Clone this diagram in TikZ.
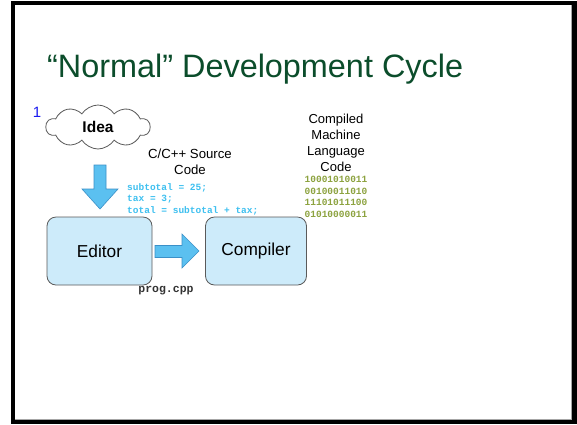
\documentclass[tikz,border=0pt]{standalone}
\usepackage{fontspec}
\setmainfont{Liberation Sans}
\newfontfamily\codefont{Liberation Mono}
\usetikzlibrary{shapes.symbols}
\definecolor{titlegreen}{HTML}{0B4D2B}
\definecolor{boxfill}{HTML}{CDEBFA}
\definecolor{boxline}{HTML}{5A5A5A}
\definecolor{arrowfill}{HTML}{5BC0F0}
\definecolor{arrowline}{HTML}{3A90C8}
\definecolor{codecyan}{HTML}{3EC0F0}
\definecolor{binolive}{HTML}{8CA23E}
\definecolor{numblue}{HTML}{1A1AF0}
\tikzset{
  stagebox/.style={draw=boxline, fill=boxfill, rounded corners=9pt, line width=0.8pt,
    minimum width=105pt, minimum height=68pt, font=\fontsize{17.3}{20}\selectfont},
  blockarrow/.style={draw=arrowline, fill=arrowfill, line width=0.6pt, line join=miter},
  labeltext/.style={align=center, font=\fontsize{13.2}{16}\selectfont, inner sep=0pt},
  codetext/.style={align=left, font=\codefont\bfseries\fontsize{9.5}{11.5}\selectfont, inner sep=0pt},
}
\begin{document}
\begin{tikzpicture}[x=1pt,y=-1pt]
\useasboundingbox (0,0) rectangle (577,424);
% slide frame
\fill[black] (11,1) rectangle (577,424);
\fill[white] (15,5) rectangle (572,420);
\draw[gray!70, line width=0.8pt] (571.5,5) -- (571.5,419.5) -- (15,419.5);
% title
\node[anchor=base west, inner sep=0pt, text=titlegreen, font=\fontsize{32.4}{38}\selectfont] (title) at (47,77) {“Normal” Development Cycle};
% number
\node[text=numblue, font=\fontsize{15}{17}\selectfont, inner sep=0pt] (num) at (37,112) {1};
% cloud
\node[cloud, cloud puffs=10, cloud puff arc=115, aspect=2.5, draw=boxline, fill=white, line width=0.8pt,
  minimum width=104pt, minimum height=44pt, inner sep=0pt, font=\bfseries\fontsize{15.5}{18}\selectfont] (idea) at (98,127) {Idea};
% down arrow
\draw[blockarrow] (94,165) -- (106,165) -- (106,189) -- (118,189) -- (100,209) -- (82,189) -- (94,189) -- cycle;
% boxes
\node[stagebox] (editor) at (99.5,251) {Editor};
\node[stagebox, minimum width=101pt] (compiler) at (256,251) {Compiler};
% right arrow
\draw[blockarrow] (155,245.5) -- (182,245.5) -- (182,234) -- (199,251) -- (182,268) -- (182,257.5) -- (155,257.5) -- cycle;
% source label
\node[labeltext] (srclabel) at (190,162) {C/C++ Source\\Code};
\node[codetext, text=codecyan, anchor=north west] (code) at (127,183) {subtotal = 25;\\tax = 3;\\total = subtotal + tax;};
\node[font=\codefont\bfseries\fontsize{11.5}{13}\selectfont, text=black!80, inner sep=0pt] (file) at (166,291) {prog.cpp};
% compiled label
\node[labeltext, font=\fontsize{13}{16}\selectfont] (mlabel) at (336,143) {Compiled\\Machine\\Language\\Code};
\node[codetext, text=binolive, anchor=north, align=center] (bin) at (336,176) {10001010011\\00100011010\\11101011100\\01010000011};
\end{tikzpicture}
\end{document}
